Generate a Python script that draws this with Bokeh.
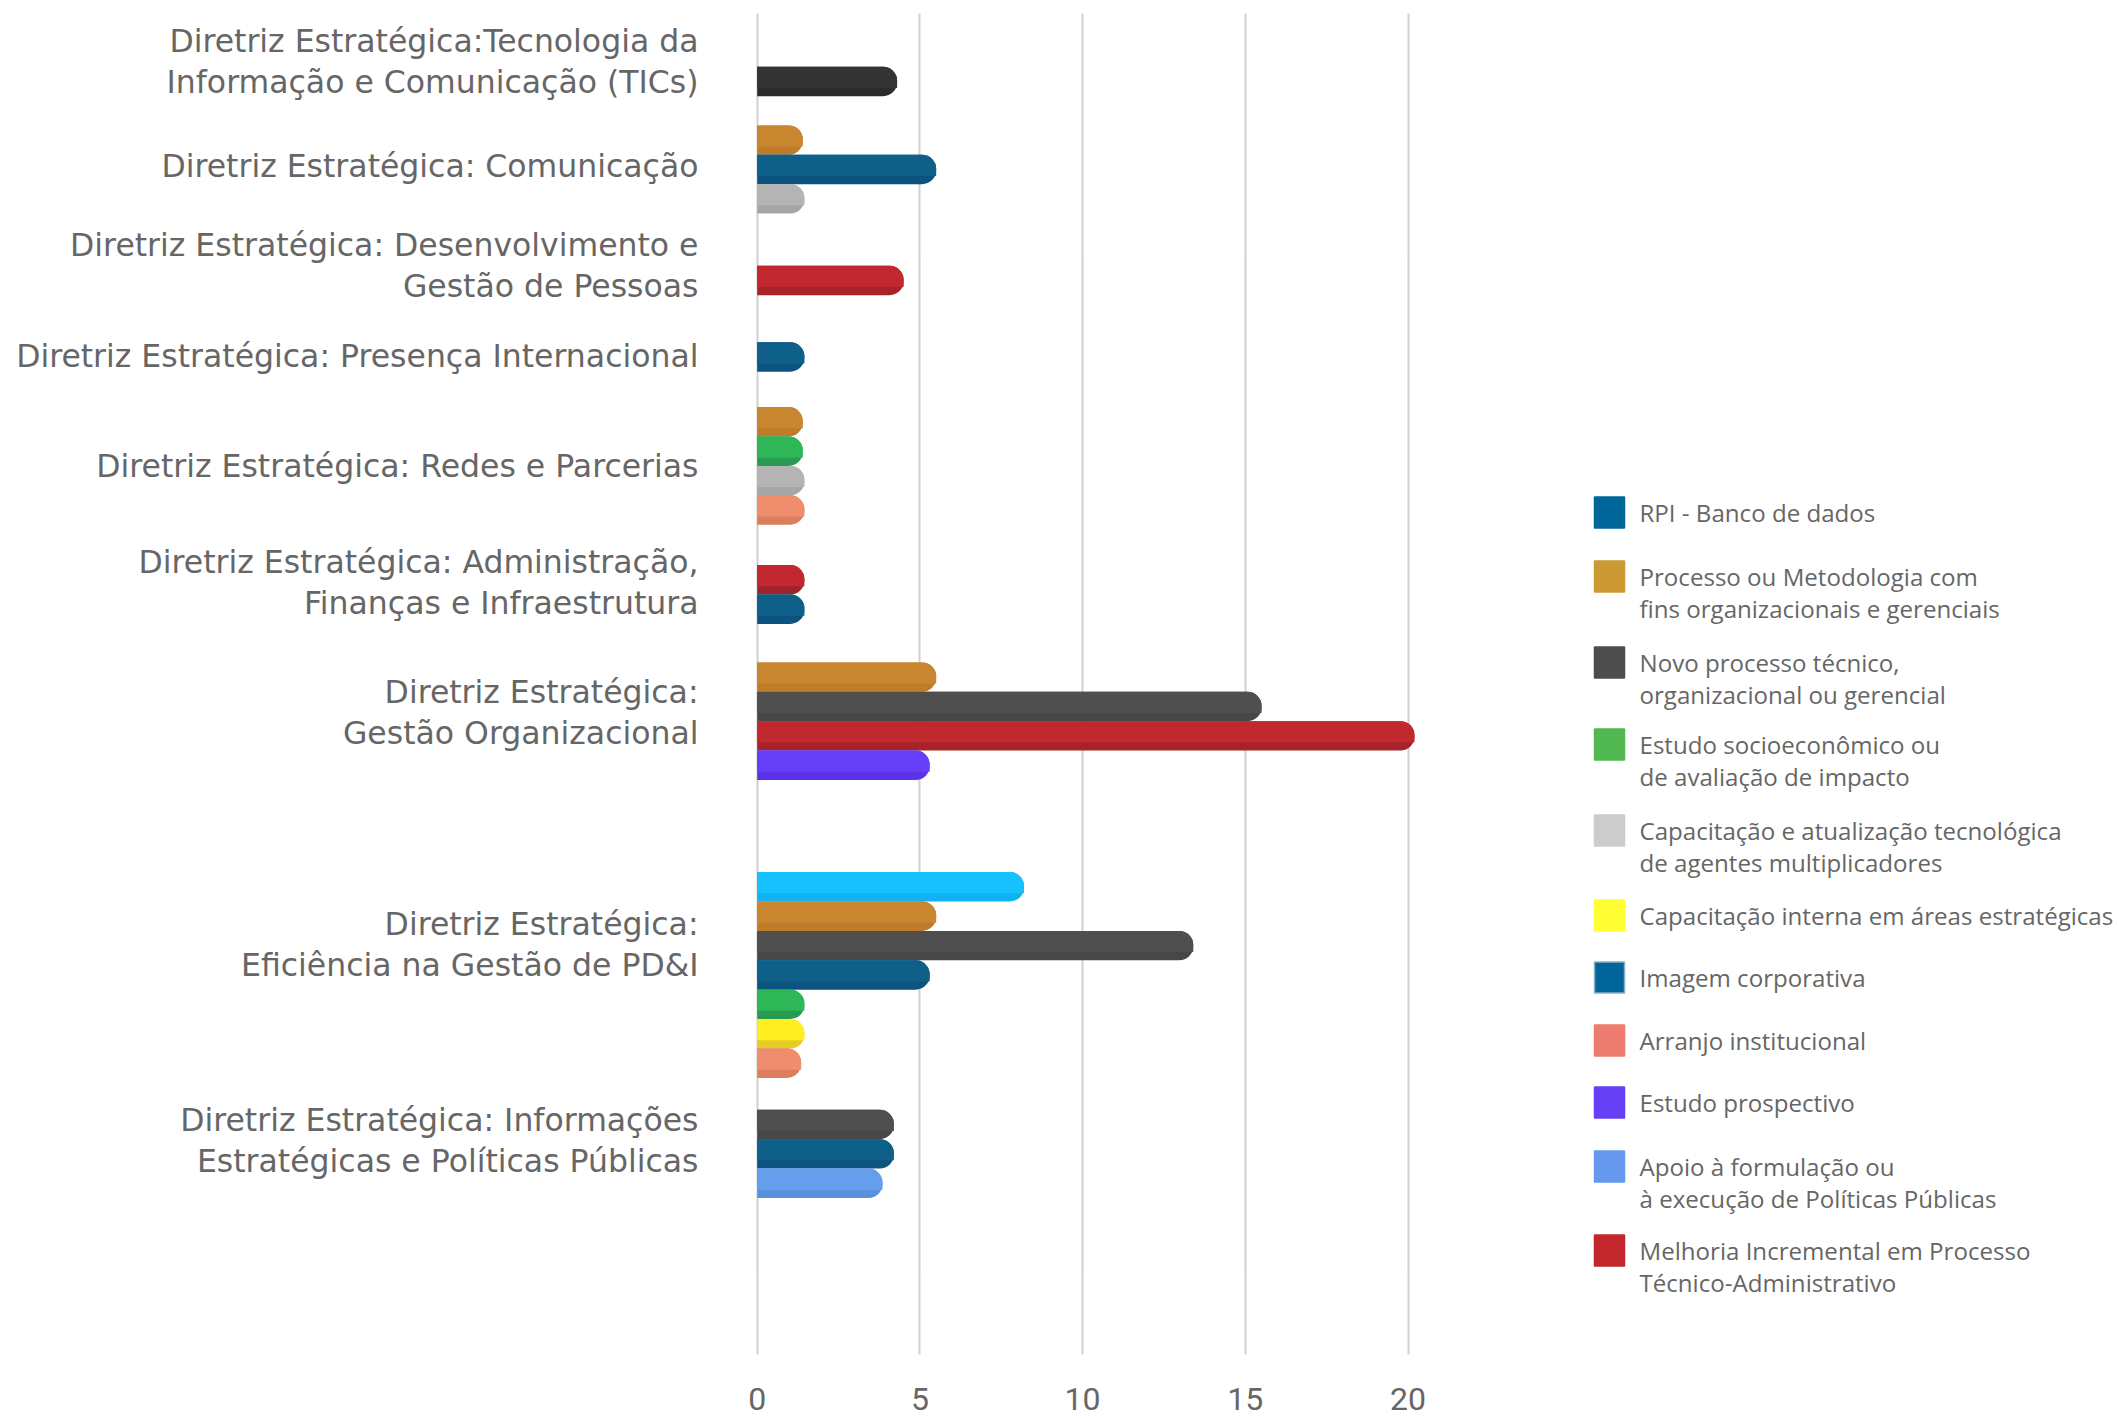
from bokeh.plotting import figure
from bokeh.models import Range1d, FixedTicker, ColumnDataSource
from bokeh.core.properties import value
from bokeh.embed import file_html
from bokeh.resources import INLINE

# ---------------- data ----------------
categories = [
    "Diretriz Estratégica:Tecnologia da\nInformação e Comunicação (TICs)",
    "Diretriz Estratégica: Comunicação",
    "Diretriz Estratégica: Desenvolvimento e\nGestão de Pessoas",
    "Diretriz Estratégica: Presença Internacional",
    "Diretriz Estratégica: Redes e Parcerias",
    "Diretriz Estratégica: Administração,\nFinanças e Infraestrutura",
    "Diretriz Estratégica:\nGestão Organizacional",
    "Diretriz Estratégica:\nEficiência na Gestão de PD&I",
    "Diretriz Estratégica: Informações\nEstratégicas e Políticas Públicas",
]

series = [
    "RPI - Banco de dados",
    "Processo ou Metodologia com\nfins organizacionais e gerenciais",
    "Novo processo técnico,\norganizacional ou gerencial",
    "Estudo socioeconômico ou\nde avaliação de impacto",
    "Capacitação e atualização tecnológica\nde agentes multiplicadores",
    "Capacitação interna em áreas estratégicas",
    "Imagem corporativa",
    "Arranjo institucional",
    "Estudo prospectivo",
    "Apoio à formulação ou\nà execução de Políticas Públicas",
    "Melhoria Incremental em Processo\nTécnico-Administrativo",
]

# bars of each category, top to bottom: series index and value
bar_series = [
    [2],
    [1, 6, 4],
    [10],
    [6],
    [1, 3, 4, 7],
    [10, 6],
    [1, 2, 10, 8],
    [0, 1, 2, 6, 3, 5, 7],
    [2, 6, 9],
]
bar_values = [
    [4.3],
    [1.4, 5.5, 1.45],
    [4.5],
    [1.45],
    [1.4, 1.4, 1.45, 1.45],
    [1.45, 1.45],
    [5.5, 15.5, 20.2, 5.3],
    [8.2, 5.5, 13.4, 5.3, 1.45, 1.45, 1.35],
    [4.2, 4.2, 3.85],
]

x_ticks = [0, 5, 10, 15, 20]

# ---------------- styles ----------------
bar_colors = ["#17C1FD", "#C8872F", "#4F4F4F", "#2DB757", "#B4B4B4", "#FFEE22",
              "#0F6089", "#EF8D6D", "#6640F9", "#669EEE", "#C22830"]
bar_shades = ["#12B2F2", "#BF7A2A", "#474747", "#289B50", "#A6A6A6", "#E5CC22",
              "#0B5480", "#DC7D5E", "#5A33E8", "#5890E0", "#A8222A"]
legend_colors = ["#006699", "#CC9933", "#4D4D4D", "#52B852", "#CCCCCC", "#FFFF33",
                 "#006699", "#EE7B70", "#6640F5", "#6699EE", "#C1272D"]
legend_borders = [None] * 6 + ["#8AB0C8"] + [None] * 4
TEXT = "#666666"

# ---------------- layout (page pixels) ----------------
W, H = 2118, 1416
X0 = 756.7          # page x of value 0
PXU = 32.54         # pixels per unit
TOP = 13            # page y of frame top
BOTTOM = 1354       # page y of frame bottom
PITCH = 29.4
BAR_H = 29.4
R = 14

group_center = [81, 169, 280, 356.5, 465.4, 594, 720.7, 974.5, 1153.4]
label_center = [61, 165, 265, 355, 465, 582, 712, 944, 1140]
LABEL_LH = 40.5
LABEL_RIGHT = 698

LEG_SW_X = 1609
LEG_TX_X = 1639
legend_y = [512, 576, 662, 744, 830, 915, 977, 1040, 1102, 1166, 1250]
LEG_LH = 31.5


def px_x(P):
    return (P - X0) / PXU


p = figure(width=W, height=H, output_backend="svg", toolbar_location=None,
           x_range=Range1d(px_x(0), px_x(W)),
           y_range=Range1d(-BOTTOM, -TOP),
           y_axis_location=None,
           min_border_left=0, min_border_right=0, min_border_top=TOP,
           min_border_bottom=H - BOTTOM)
p.outline_line_color = None
p.background_fill_color = "white"
p.border_fill_color = "white"

p.xaxis.ticker = FixedTicker(ticks=x_ticks)
p.xaxis.axis_line_color = None
p.xaxis.major_tick_line_color = None
p.xaxis.minor_tick_line_color = None
p.xaxis.major_label_text_font = "Roboto"
p.xaxis.major_label_text_font_size = "32px"
p.xaxis.major_label_text_color = TEXT
p.xaxis.major_label_standoff = 27

p.xgrid.ticker = FixedTicker(ticks=x_ticks)
p.xgrid.grid_line_color = "#D0D0D0"
p.xgrid.grid_line_width = 2
p.ygrid.grid_line_color = None

# bars
ys, yts, rights, cols, shades = [], [], [], [], []
for ci, (sers, vals) in enumerate(zip(bar_series, bar_values)):
    n = len(sers)
    for j, (s, v) in enumerate(zip(sers, vals)):
        yp = group_center[ci] + (j - (n - 1) / 2) * PITCH
        y = -yp
        ys.append(y)
        yts.append(y + 0.14 * BAR_H)
        rights.append(v)
        c = bar_colors[s]
        sh = bar_shades[s]
        if ci == 0 and s == 2:
            c, sh = "#343434", "#2B2B2B"
        if ci == 5 and s == 10:
            sh = "#A0232B"
        cols.append(c)
        shades.append(sh)

src = ColumnDataSource(dict(y=ys, yt=yts, right=rights, color=cols, shade=shades))
p.hbar(y="y", height=BAR_H, left=0, right="right", fill_color="shade",
       line_color=None, border_radius=(0, R, R, 0), source=src)
p.hbar(y="yt", height=0.72 * BAR_H, left=0, right="right", fill_color="color",
       line_color=None, border_radius=(0, R, 0, 0), source=src)

# category labels
lx, ly, lt = [], [], []
for ci, cat in enumerate(categories):
    lines = cat.split("\n")
    n = len(lines)
    for k, line in enumerate(lines):
        lx.append(px_x(LABEL_RIGHT))
        ly.append(-(label_center[ci] + (k - (n - 1) / 2) * LABEL_LH))
        lt.append(line)
p.text(x=lx, y=ly, text=lt, text_font=value("DejaVu Sans"), text_font_size="31.5px",
       text_color=TEXT, text_align="right", text_baseline="middle")

# legend
sx, sy, sc, sb = [], [], [], []
tx, ty, tt = [], [], []
for i, name in enumerate(series):
    sx.append(px_x(LEG_SW_X))
    sy.append(-legend_y[i])
    sc.append(legend_colors[i])
    sb.append(legend_borders[i] or legend_colors[i])
    for k, line in enumerate(name.split("\n")):
        tx.append(px_x(LEG_TX_X))
        ty.append(-(legend_y[i] + k * LEG_LH))
        tt.append(line)
p.rect(x=sx, y=sy, width=30, height=31, width_units="screen", height_units="screen",
       fill_color=sc, line_color=sb, line_width=1.5)
p.text(x=tx, y=ty, text=tt, text_font=value("Open Sans"), text_font_size="24.1px",
       text_color=TEXT, text_align="left", text_baseline="middle")

open("out.html", "w").write(file_html(p, INLINE))
